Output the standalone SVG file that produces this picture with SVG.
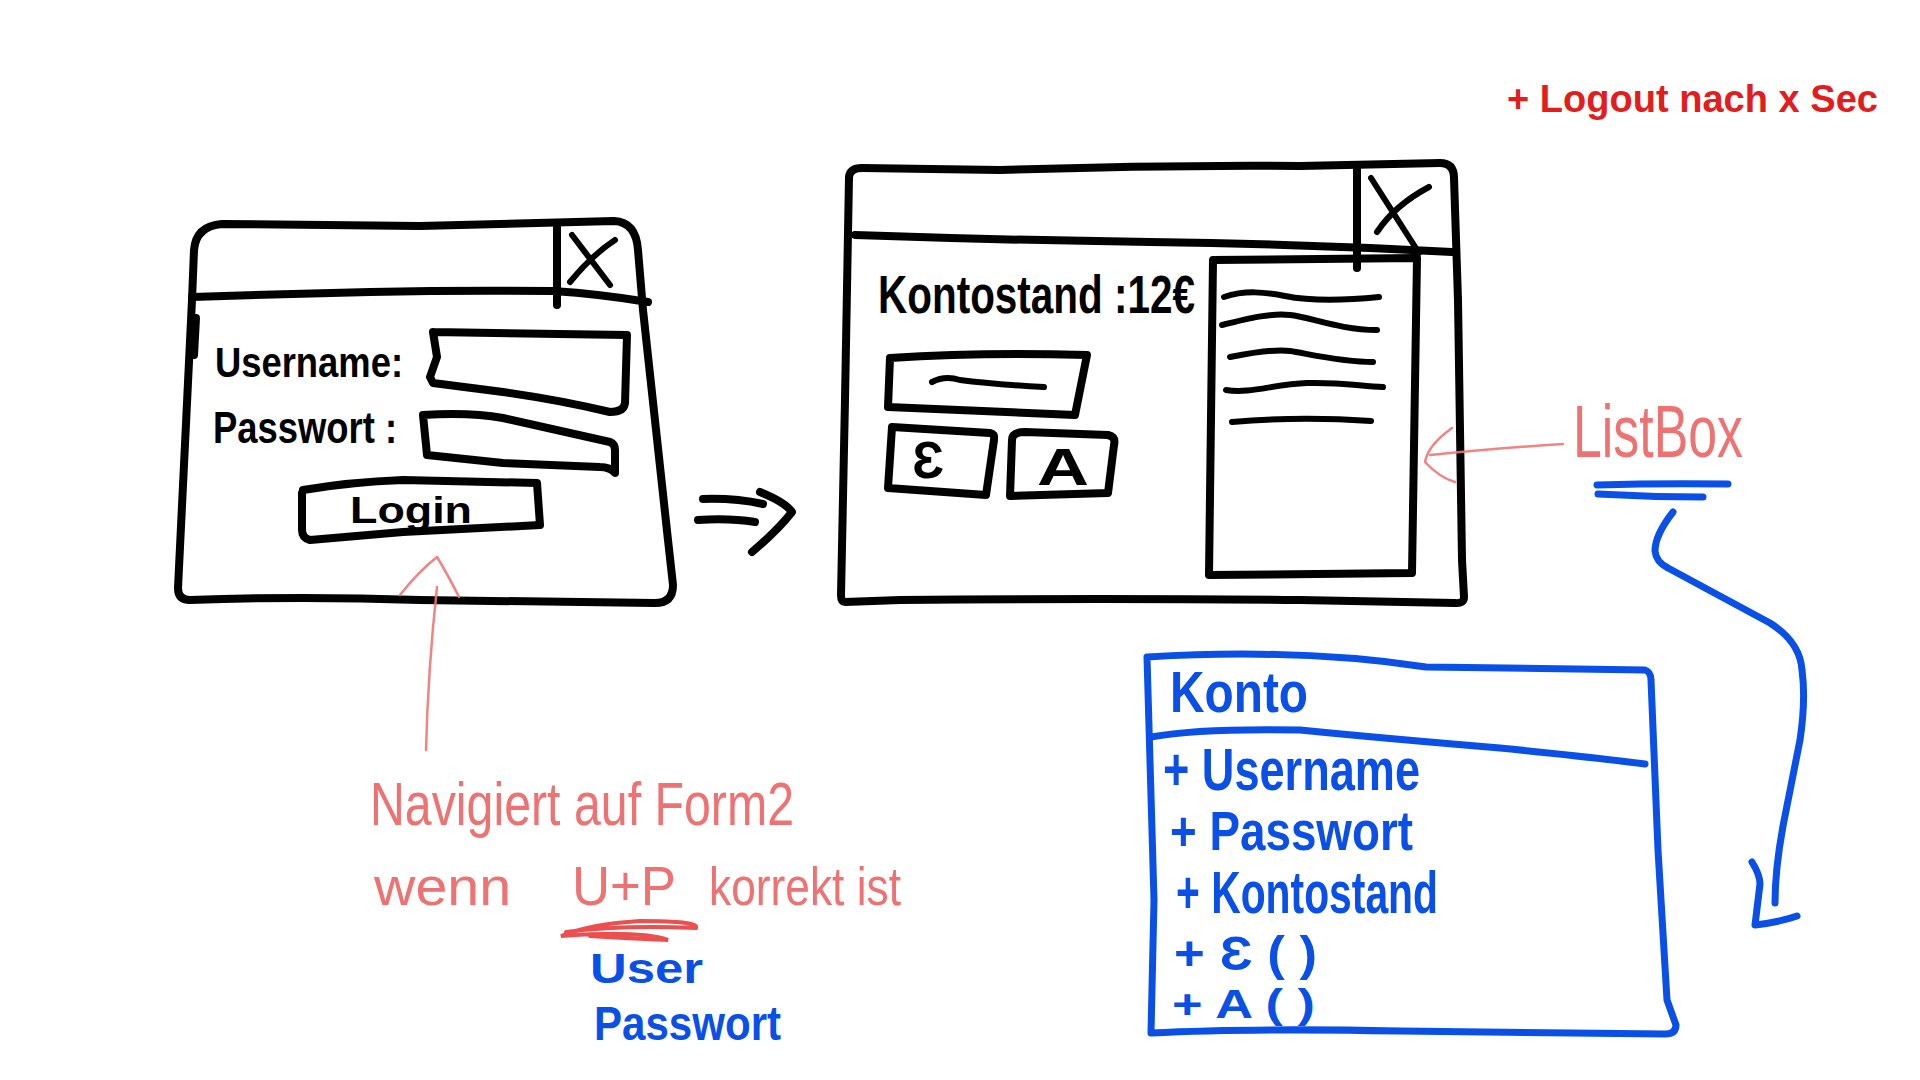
<svg xmlns="http://www.w3.org/2000/svg" width="1920" height="1080" viewBox="0 0 1920 1080">
<style>
.ink{fill:none;stroke:#000;stroke-width:8;stroke-linecap:round;stroke-linejoin:round}
.ink6{fill:none;stroke:#000;stroke-width:6;stroke-linecap:round;stroke-linejoin:round}
.blue{fill:none;stroke:#0a50e6;stroke-width:7;stroke-linecap:round;stroke-linejoin:round}
.pencil{fill:none;stroke:#ef7575;stroke-width:2.5;stroke-linecap:round;stroke-linejoin:round;opacity:0.9}
.scrib{fill:none;stroke:#e83030;stroke-width:4;stroke-linecap:round;opacity:0.85}
.tb{font-family:"Liberation Sans",Arial,sans-serif;font-weight:bold;fill:#000}
.tbl{font-family:"Liberation Sans",Arial,sans-serif;font-weight:bold;fill:#0a50e6}
.tred{font-family:"Liberation Sans",Arial,sans-serif;font-weight:bold;fill:#e31c1c}
.tpen{font-family:"Liberation Sans",Arial,sans-serif;font-weight:normal;fill:#ef7272}
</style>
<rect width="1920" height="1080" fill="#fff"/>

<g id="logout-note">
  <text class="tred" x="1507" y="112" font-size="38" textLength="371" lengthAdjust="spacingAndGlyphs">+ Logout nach x Sec</text>
</g>

<g id="form1">
  <path class="ink" d="M192 300 L194 250 Q196 226 222 224 L420 226 Q500 224 614 221 Q636 222 638 250 L643 310 L668 540 L673 585 Q673 603 655 603 L420 600 Q300 596 190 600 Q178 600 178 588 L192 300"/>
  <path class="ink" d="M196 318 L194 355" stroke-width="10"/>
  <path class="ink" d="M192 297 Q280 294 370 292 Q460 290 553 291 Q600 294 648 302"/>
  <path class="ink" d="M557 227 L557 305"/>
  <path class="ink6" d="M572 235 L610 285 M615 240 Q592 255 570 282"/>
  <text class="tb" x="215" y="377" font-size="42" textLength="188" lengthAdjust="spacingAndGlyphs">Username:</text>
  <text class="tb" x="213" y="443" font-size="44" textLength="184" lengthAdjust="spacingAndGlyphs">Passwort :</text>
  <path class="ink" d="M433 332 L627 335 L625 403 Q624 412 610 412 Q560 400 503 392 L433 383 L430 377 L437 357 L433 332"/>
  <path class="ink" d="M423 415 Q470 412 503 418 L610 442 Q615 444 615 450 L615 473 Q610 467 600 467 L503 463 L427 455 L423 415"/>
  <path class="ink" d="M303 490 Q350 482 403 480 L537 483 L540 525 L403 532 L310 540 Q302 538 302 530 L302 493"/>
  <text class="tb" x="350" y="523" font-size="36" textLength="122" lengthAdjust="spacingAndGlyphs">Login</text>
</g>

<g id="form2">
  <path class="ink" d="M849 177 Q850 168 862 168 L1000 170 Q1150 165 1300 166 L1440 163 Q1454 163 1454 178 L1458 300 L1462 560 L1464 597 Q1464 604 1455 603 L1300 600 Q1100 598 900 600 L845 602 Q841 602 841 595 L845 400 L849 177"/>
  <path class="ink" d="M855 235 Q1000 240 1150 242 Q1300 244 1452 252"/>
  <path class="ink" d="M1357 168 L1357 268"/>
  <path class="ink6" d="M1371 178 L1419 253 M1429 187 Q1395 205 1377 232"/>
  <text class="tb" x="878" y="313" font-size="54" textLength="317" lengthAdjust="spacingAndGlyphs">Kontostand :12€</text>
  <path class="ink" d="M890 358 Q980 352 1087 355 L1075 415 L888 407 L890 358"/>
  <path class="ink6" d="M932 382 Q945 375 960 380 Q990 384 1044 387"/>
  <g id="btn-e">
    <path class="ink" d="M892 427 L990 433 Q995 434 994 440 L986 495 L888 488 Z"/>
    <text class="tb" x="928" y="478" font-size="52" text-anchor="middle" textLength="32" lengthAdjust="spacingAndGlyphs">Ɛ</text>
  </g>
  <g id="btn-a">
    <path class="ink" d="M1012 440 Q1012 432 1025 432 L1108 435 Q1116 437 1114 445 L1108 493 L1010 496 Z"/>
    <text class="tb" x="1063" y="485" font-size="52" text-anchor="middle" textLength="52" lengthAdjust="spacingAndGlyphs">A</text>
  </g>
  <g id="listbox">
    <path class="ink" d="M1213 260 L1417 258 L1412 573 L1209 575 Z"/>
    <path class="ink6" d="M1224 297 C1245 290 1265 292 1285 296 S1330 302 1379 297"/>
    <path class="ink6" d="M1222 325 C1250 318 1270 313 1290 315 S1340 330 1377 330"/>
    <path class="ink6" d="M1230 357 C1255 352 1275 349 1290 351 S1340 362 1373 362"/>
    <path class="ink6" d="M1226 390 C1250 394 1275 384 1307 383 S1360 386 1383 387"/>
    <path class="ink6" d="M1232 422 Q1300 416 1371 421"/>
  </g>
</g>

<g id="listbox-note">
  <text class="tpen" x="1573" y="457" font-size="74" textLength="170" lengthAdjust="spacingAndGlyphs">ListBox</text>
  <path class="blue" d="M1597 485 Q1660 483 1728 484"/>
  <path class="blue" d="M1598 494 Q1650 497 1703 497"/>
</g>

<g id="navigate-note">
  <text class="tpen" x="370" y="825" font-size="62" textLength="424" lengthAdjust="spacingAndGlyphs">Navigiert auf Form2</text>
  <text class="tpen" x="374" y="905" font-size="54" textLength="137" lengthAdjust="spacingAndGlyphs">wenn</text>
  <text class="tpen" x="572" y="905" font-size="56" textLength="104" lengthAdjust="spacingAndGlyphs">U+P</text>
  <text class="tpen" x="709" y="905" font-size="54" textLength="192" lengthAdjust="spacingAndGlyphs">korrekt ist</text>
  <path class="scrib" d="M566 932 Q620 925 696 928 Q700 921 640 921 Q590 924 561 936 Q640 930 668 940 Q620 938 590 936"/>
  <text class="tbl" x="590" y="983" font-size="42" textLength="113" lengthAdjust="spacingAndGlyphs">User</text>
  <text class="tbl" x="594" y="1040" font-size="48" textLength="187" lengthAdjust="spacingAndGlyphs">Passwort</text>
</g>

<g id="konto-class">
  <path class="blue" d="M1147 657 Q1300 648 1426 667 L1645 670 Q1651 672 1651 680 L1658 850 L1667 1000 L1676 1025 Q1676 1034 1665 1034 L1400 1031 Q1250 1028 1151 1033 L1154 900 L1147 657"/>
  <path class="blue" d="M1151 737 Q1200 728 1300 730 Q1380 738 1500 748 Q1600 758 1645 764"/>
  <text class="tbl" x="1170" y="712" font-size="58" textLength="138" lengthAdjust="spacingAndGlyphs">Konto</text>
  <text class="tbl" x="1163" y="790" font-size="60" textLength="257" lengthAdjust="spacingAndGlyphs">+ Username</text>
  <text class="tbl" x="1170" y="850" font-size="56" textLength="243" lengthAdjust="spacingAndGlyphs">+ Passwort</text>
  <text class="tbl" x="1176" y="913" font-size="60" textLength="262" lengthAdjust="spacingAndGlyphs">+ Kontostand</text>
  <text class="tbl" x="1174" y="970" font-size="48" textLength="143" lengthAdjust="spacingAndGlyphs">+ Ɛ ( )</text>
  <text class="tbl" x="1172" y="1018" font-size="40" textLength="143" lengthAdjust="spacingAndGlyphs">+ A ( )</text>
</g>

<g id="connectors">
  <path class="ink" d="M703 499 Q735 498 763 504 M698 520 Q730 518 755 522 M760 492 Q785 502 792 512 Q778 530 752 552"/>
  <path class="pencil" d="M426 750 Q428 670 437 587 M400 595 Q418 572 437 557 Q448 575 459 597"/>
  <path class="pencil" d="M1563 444 Q1500 448 1430 455 M1452 428 Q1428 445 1425 462 Q1440 478 1455 482"/>
  <path class="blue" d="M1673 512 Q1655 535 1655 551 Q1656 562 1668 568 L1770 623 Q1800 642 1802 670 Q1806 700 1800 740 L1783 826 Q1775 870 1775 903"/>
  <path class="blue" d="M1752 862 Q1760 875 1760 884 L1755 925 Q1780 922 1797 916"/>
</g>
</svg>
